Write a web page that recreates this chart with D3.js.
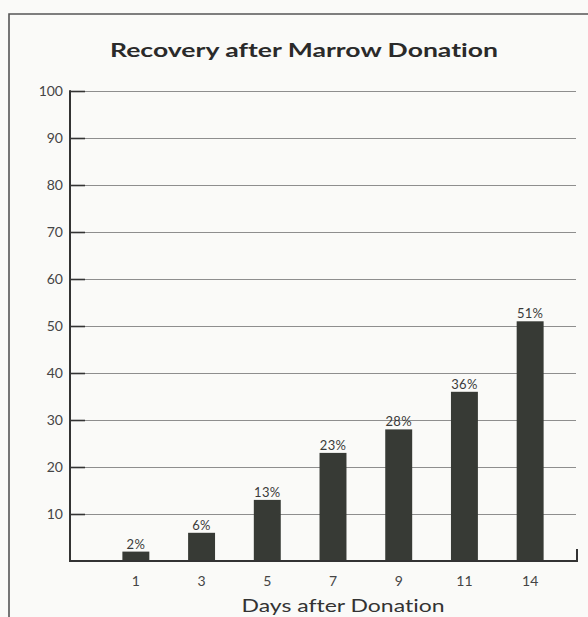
<!DOCTYPE html>
<html>
<head>
<meta charset="utf-8">
<script src="https://cdn.jsdelivr.net/npm/d3@7"></script>
<style>
  html, body { margin: 0; padding: 0; background: #fafaf8; }
  svg { display: block; }
  text { font-family: Lato, sans-serif; font-variant-ligatures: none; }
</style>
</head>
<body>
<svg id="chart" width="588" height="617"></svg>
<script>
// Recovery percentage by day after donation
const days = ["1", "3", "5", "7", "9", "11", "14"];
const recovery = [2, 6, 13, 23, 28, 36, 51];
const yTickValues = [10, 20, 30, 40, 50, 60, 70, 80, 90, 100];
const titleText = "Recovery after Marrow Donation";
const xAxisTitle = "Days after Donation";

const svg = d3.select("#chart");
const W = 588, H = 617;

const plot = { left: 70, right: 576, top: 91, bottom: 561 };

const x = d3.scaleBand()
  .domain(days)
  .range([103, 563])
  .paddingInner(0.59)
  .paddingOuter(0.295);

const y = d3.scaleLinear()
  .domain([0, 100])
  .range([plot.bottom, plot.top]);

// outer frame (top and left edges)
svg.append("path")
  .attr("d", `M9,${H + 2} L9,14 L${W + 2},14`)
  .attr("fill", "none")
  .attr("stroke", "#555")
  .attr("stroke-width", 1.6);

// title
svg.append("text")
  .attr("x", 304)
  .attr("y", 57)
  .attr("text-anchor", "middle")
  .attr("font-family", "'DejaVu Sans', sans-serif")
  .attr("font-size", 19.5)
  .attr("font-weight", 700)
  .attr("fill", "#2a2a2a")
  .attr("textLength", 388)
  .attr("lengthAdjust", "spacingAndGlyphs")
  .text(titleText);

// horizontal gridlines
svg.append("g")
  .attr("transform", `translate(${plot.left},0)`)
  .call(d3.axisLeft(y).tickValues(yTickValues).tickSize(-(plot.right - plot.left)).tickFormat(""))
  .call(g => g.select(".domain").remove())
  .call(g => g.selectAll(".tick line").attr("stroke", "#8e8e8e").attr("stroke-width", 1));

// y axis: short dark ticks and labels
svg.append("g")
  .attr("transform", `translate(${plot.left},0)`)
  .call(d3.axisLeft(y).tickValues(yTickValues).tickSize(-15).tickPadding(7))
  .call(g => g.select(".domain").remove())
  .call(g => g.selectAll(".tick line").attr("stroke", "#333").attr("stroke-width", 1.6))
  .call(g => g.selectAll(".tick text")
    .attr("font-family", "Lato, sans-serif")
    .attr("font-size", 14)
    .attr("fill", "#454545"));

// bars
svg.append("g")
  .selectAll("rect")
  .data(days)
  .join("rect")
  .attr("x", d => x(d))
  .attr("y", (d, i) => y(recovery[i]))
  .attr("width", x.bandwidth())
  .attr("height", (d, i) => y(0) - y(recovery[i]))
  .attr("fill", "#373a35");

// value labels
svg.append("g")
  .selectAll("text")
  .data(days)
  .join("text")
  .attr("x", d => x(d) + x.bandwidth() / 2)
  .attr("y", (d, i) => y(recovery[i]) - 3)
  .attr("text-anchor", "middle")
  .attr("font-size", 13)
  .attr("letter-spacing", 0.3)
  .attr("fill", "#3a3a3a")
  .text((d, i) => recovery[i] + "%");

// y axis line
svg.append("line")
  .attr("x1", plot.left).attr("x2", plot.left)
  .attr("y1", y(100) - 0.8).attr("y2", plot.bottom + 1)
  .attr("stroke", "#333")
  .attr("stroke-width", 2);

// x axis
svg.append("g")
  .attr("transform", `translate(0,${plot.bottom})`)
  .call(d3.axisBottom(x).tickSize(0).tickPadding(15))
  .call(g => g.select(".domain").remove())
  .call(g => g.selectAll(".tick text")
    .attr("font-family", "Lato, sans-serif")
    .attr("font-size", 14)
    .attr("fill", "#454545"));

// baseline with closing tick at the right end
svg.append("path")
  .attr("d", `M${plot.left - 1},${plot.bottom} L${plot.right + 1},${plot.bottom} L${plot.right + 1},${plot.bottom - 12}`)
  .attr("fill", "none")
  .attr("stroke", "#333")
  .attr("stroke-width", 2);

// x axis title
svg.append("text")
  .attr("x", 343)
  .attr("y", 612)
  .attr("text-anchor", "middle")
  .attr("font-family", "'DejaVu Sans', sans-serif")
  .attr("font-size", 17)
  .attr("fill", "#333")
  .attr("textLength", 203)
  .attr("lengthAdjust", "spacingAndGlyphs")
  .text(xAxisTitle);
</script>
</body>
</html>
